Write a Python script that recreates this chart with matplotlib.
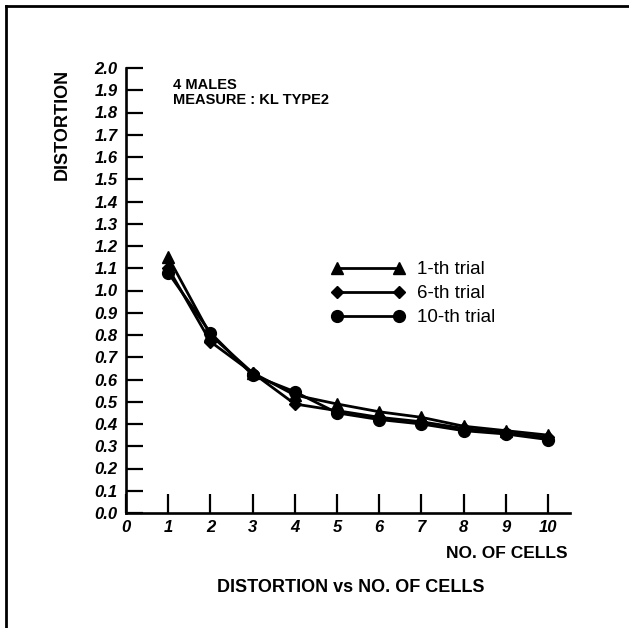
import matplotlib
matplotlib.use("Agg")
import matplotlib.pyplot as plt
from matplotlib.lines import Line2D

plt.rcParams["font.family"] = ["Liberation Sans", "DejaVu Sans"]

# data
cells = [1, 2, 3, 4, 5, 6, 7, 8, 9, 10]
trial_1 = [1.15, 0.80, 0.63, 0.53, 0.49, 0.455, 0.43, 0.39, 0.37, 0.35]
trial_6 = [1.10, 0.77, 0.63, 0.49, 0.46, 0.43, 0.41, 0.38, 0.36, 0.34]
trial_10 = [1.08, 0.81, 0.62, 0.545, 0.45, 0.42, 0.40, 0.37, 0.355, 0.33]
labels = ["1-th trial", "6-th trial", "10-th trial"]
y_ticks = [i / 10 for i in range(21)]
x_ticks = list(range(11))

W, H = 629, 628
fig = plt.figure(figsize=(W / 100, H / 100), dpi=100)

# axes placed in pixel terms of the original
left, right, bottom, top = 126, 570, 513, 68
ax = fig.add_axes([left / W, 1 - bottom / H, (right - left) / W, (bottom - top) / H])

series = [(trial_1, "^", 9), (trial_6, "D", 6.5), (trial_10, "o", 8.5)]
for (vals, m, ms), lab in zip(series, labels):
    ax.plot(cells, vals, color="black", lw=2, marker=m, ms=ms,
            markerfacecolor="black", markeredgecolor="black", label=lab)

ax.set_xlim(0, 10.52)
ax.set_ylim(0, 2.0)
ax.set_xticks(x_ticks)
ax.set_yticks(y_ticks)
ax.set_yticklabels(["%.1f" % v for v in y_ticks])
for s in ["top", "right"]:
    ax.spines[s].set_visible(False)
for s in ["left", "bottom"]:
    ax.spines[s].set_linewidth(1.9)
ax.tick_params(axis="y", direction="in", length=12, width=1.6, pad=6)
ax.tick_params(axis="x", direction="in", length=14, width=1.6, pad=5)
for t in ax.get_xticklabels() + ax.get_yticklabels():
    t.set_fontsize(12)
    t.set_fontweight("bold")
    t.set_fontstyle("italic")

leg = ax.legend(loc="upper left", bbox_to_anchor=(331 / W, 1 - 261 / H),
                bbox_transform=fig.transFigure, frameon=False, numpoints=2,
                handlelength=3.9, handletextpad=0.7, labelspacing=0.37,
                borderpad=0, borderaxespad=0, prop={"size": 13.5})

fig.text(62 / W, 1 - 69 / H, "DISTORTION", rotation=90, ha="center", va="top",
         fontsize=13, fontweight="bold")
fig.text(173 / W, 1 - 85 / H, "4 MALES", ha="left", va="center",
         fontsize=10.5, fontweight="bold")
fig.text(173 / W, 1 - 100 / H, "MEASURE : KL TYPE2", ha="left", va="center",
         fontsize=10.5, fontweight="bold")
fig.text(568 / W, 1 - 553 / H, "NO. OF CELLS", ha="right", va="center",
         fontsize=12.5, fontweight="bold")
fig.text(351 / W, 1 - 588 / H, "DISTORTION vs NO. OF CELLS", ha="center",
         va="center", fontsize=13, fontweight="bold")

# page frame (left and top edges only)
fig.add_artist(Line2D([6 / W, 6 / W], [0, 1 - 6 / H], color="black", lw=2,
                      transform=fig.transFigure))
fig.add_artist(Line2D([6 / W, 1], [1 - 6 / H, 1 - 6 / H], color="black", lw=2,
                      transform=fig.transFigure))

fig.savefig("out.png", dpi=100)
